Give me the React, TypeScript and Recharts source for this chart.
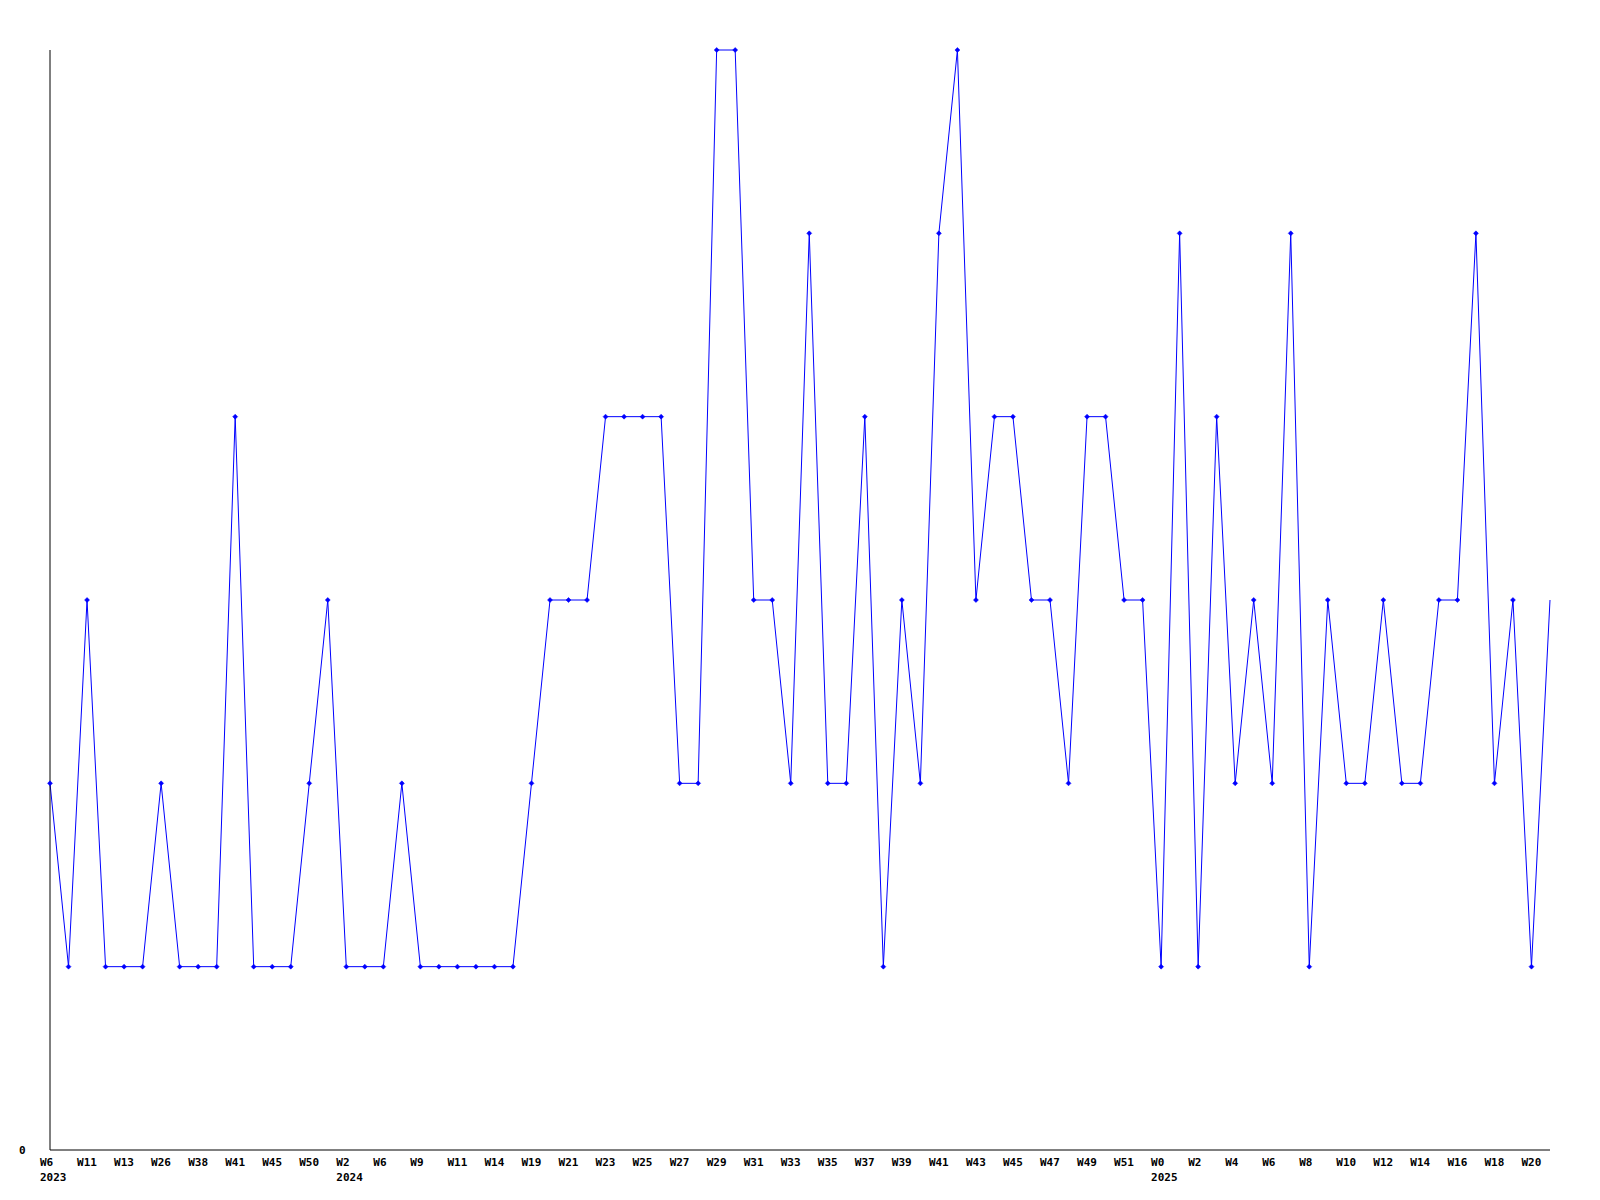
import React from "react";
import { LineChart, Line, XAxis, YAxis } from "recharts";

// week labels, one per point (every second one is shown on the axis)
const weeks = [
  "W6", "W7", "W11", "W12", "W13", "W20", "W26", "W30", "W38", "W40",
  "W41", "W43", "W45", "W48", "W50", "W52",
  "W2", "W4", "W6", "W8", "W9", "W10", "W11", "W12", "W14", "W17",
  "W19", "W20", "W21", "W22", "W23", "W24", "W25", "W26", "W27", "W28",
  "W29", "W30", "W31", "W32", "W33", "W34", "W35", "W36", "W37", "W38",
  "W39", "W40", "W41", "W42", "W43", "W44", "W45", "W46", "W47", "W48",
  "W49", "W50", "W51", "W52",
  "W0", "W1", "W2", "W3", "W4", "W5", "W6", "W7", "W8", "W9",
  "W10", "W11", "W12", "W13", "W14", "W15", "W16", "W17", "W18", "W19",
  "W20", "W21",
];

// year shown under the first week of each year
const yearStarts: Record<number, string> = { 0: "2023", 16: "2024", 60: "2025" };

const counts = [
  2, 1, 3, 1, 1, 1, 2, 1, 1, 1,
  4, 1, 1, 1, 2, 3,
  1, 1, 1, 2, 1, 1, 1, 1, 1, 1,
  2, 3, 3, 3, 4, 4, 4, 4, 2, 2,
  6, 6, 3, 3, 2, 5, 2, 2, 4, 1,
  3, 2, 5, 6, 3, 4, 4, 3, 3, 2,
  4, 4, 3, 3,
  1, 5, 1, 4, 2, 3, 2, 5, 1, 3,
  2, 2, 3, 2, 2, 3, 3, 5, 2, 3,
  1, 3,
];

const data = weeks.map((w, i) => ({ idx: i, week: w, count: counts[i] }));

const FONT = "'DejaVu Sans Mono', monospace";

const WeekTick = (props: any) => {
  const { x, y, payload } = props;
  const i = payload.value as number;
  if (i % 2 !== 0 || i >= weeks.length - 1) return null;
  return (
    <g>
      <text x={x - 10} y={y + 8} fontFamily={FONT} fontWeight="bold" fontSize={11} fill="#000">
        {weeks[i]}
      </text>
      {yearStarts[i] && (
        <text x={x - 10} y={y + 23} fontFamily={FONT} fontWeight="bold" fontSize={11} fill="#000">
          {yearStarts[i]}
        </text>
      )}
    </g>
  );
};

const ZeroTick = (props: any) => {
  const { y, payload } = props;
  return (
    <text x={19} y={y + 4} fontFamily={FONT} fontWeight="bold" fontSize={11} fill="#000">
      {payload.value}
    </text>
  );
};

const Marker = (props: any) => {
  const { cx, cy, index } = props;
  if (index === counts.length - 1) return <g key={index} />;
  return (
    <path
      key={index}
      d={`M${cx - 2.5},${cy} L${cx},${cy - 2.5} L${cx + 2.5},${cy} L${cx},${cy + 2.5} Z`}
      fill="#0000ff"
      stroke="#0000ff"
      strokeWidth={0.5}
    />
  );
};

export default function App() {
  return (
    <div style={{ position: "absolute", top: 0, left: 0, width: 1600, height: 1200, background: "#fff" }}>
      <LineChart width={1600} height={1200} data={data} margin={{ top: 50, right: 50, bottom: 0, left: 0 }}>
        <XAxis
          dataKey="idx"
          type="category"
          interval={0}
          tickLine={false}
          axisLine={{ stroke: "#000", strokeWidth: 1 }}
          height={50}
          tick={<WeekTick />}
        />
        <YAxis
          domain={[0, 6]}
          ticks={[0]}
          width={50}
          tickLine={false}
          axisLine={{ stroke: "#000", strokeWidth: 1 }}
          tick={<ZeroTick />}
        />
        <Line
          type="linear"
          dataKey="count"
          stroke="#0000ff"
          strokeWidth={1}
          dot={<Marker />}
          activeDot={false}
          isAnimationActive={false}
        />
      </LineChart>
    </div>
  );
}
